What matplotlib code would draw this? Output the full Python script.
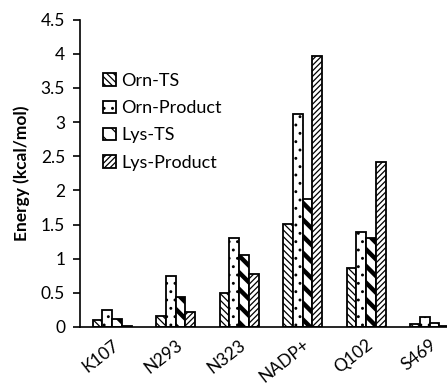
import matplotlib
matplotlib.use("Agg")
import matplotlib.pyplot as plt
import numpy as np

residues = ["K107", "N293", "N323", "NADP+", "Q102", "S469"]
orn_ts = [0.10, 0.16, 0.49, 1.51, 0.86, 0.05]
orn_product = [0.25, 0.74, 1.30, 3.12, 1.39, 0.15]
lys_ts = [0.12, 0.44, 1.05, 1.87, 1.30, 0.06]
lys_product = [0.02, 0.22, 0.77, 3.97, 2.42, 0.02]

plt.rcParams["font.family"] = ["Lato", "DejaVu Sans"]

fig = plt.figure(figsize=(4.47, 3.86), dpi=100)
ax = fig.add_axes([0.180, 0.153, 0.852, 0.796])

x = np.arange(len(residues))
w = 0.153
series = [
    ("Orn-TS", orn_ts, "\\\\\\\\\\", 0.9),
    ("Orn-Product", orn_product, "..", 0.9),
    ("Lys-TS", lys_ts, "\\\\", 3.2),
    ("Lys-Product", lys_product, "//////", 0.9),
]
for i, (name, vals, hatch, hlw) in enumerate(series):
    plt.rcParams["hatch.linewidth"] = hlw
    ax.bar(x + (i - 1.5) * w, vals, w, color="white", edgecolor="black",
           linewidth=1.3, hatch=hatch, label=name)

ax.set_xlim(-0.5, 5.5)
ax.set_ylim(0, 4.5)
ax.set_yticks(np.arange(0, 4.51, 0.5))
ax.set_yticklabels(["0", "0.5", "1", "1.5", "2", "2.5", "3", "3.5", "4", "4.5"])
ax.set_xticks(x)
ax.set_xticklabels(residues, rotation=38, ha="right", rotation_mode="anchor")
ax.tick_params(axis="y", labelsize=12.5, direction="out", length=5, width=1.2, pad=6)
ax.tick_params(axis="x", labelsize=12.5, length=0, pad=7)
for s in ["top", "right"]:
    ax.spines[s].set_visible(False)
ax.spines["left"].set_linewidth(1.2)
ax.spines["bottom"].set_linewidth(1.2)
ax.set_ylabel("Energy (kcal/mol)", fontsize=12.5, fontweight="bold", labelpad=8)

ax.legend(loc="upper left", bbox_to_anchor=(0.04, 0.85), frameon=False,
          fontsize=13, handlelength=0.7, handleheight=0.7, handletextpad=0.3,
          labelspacing=0.62, borderaxespad=0)

fig.savefig("out.png", dpi=100)
